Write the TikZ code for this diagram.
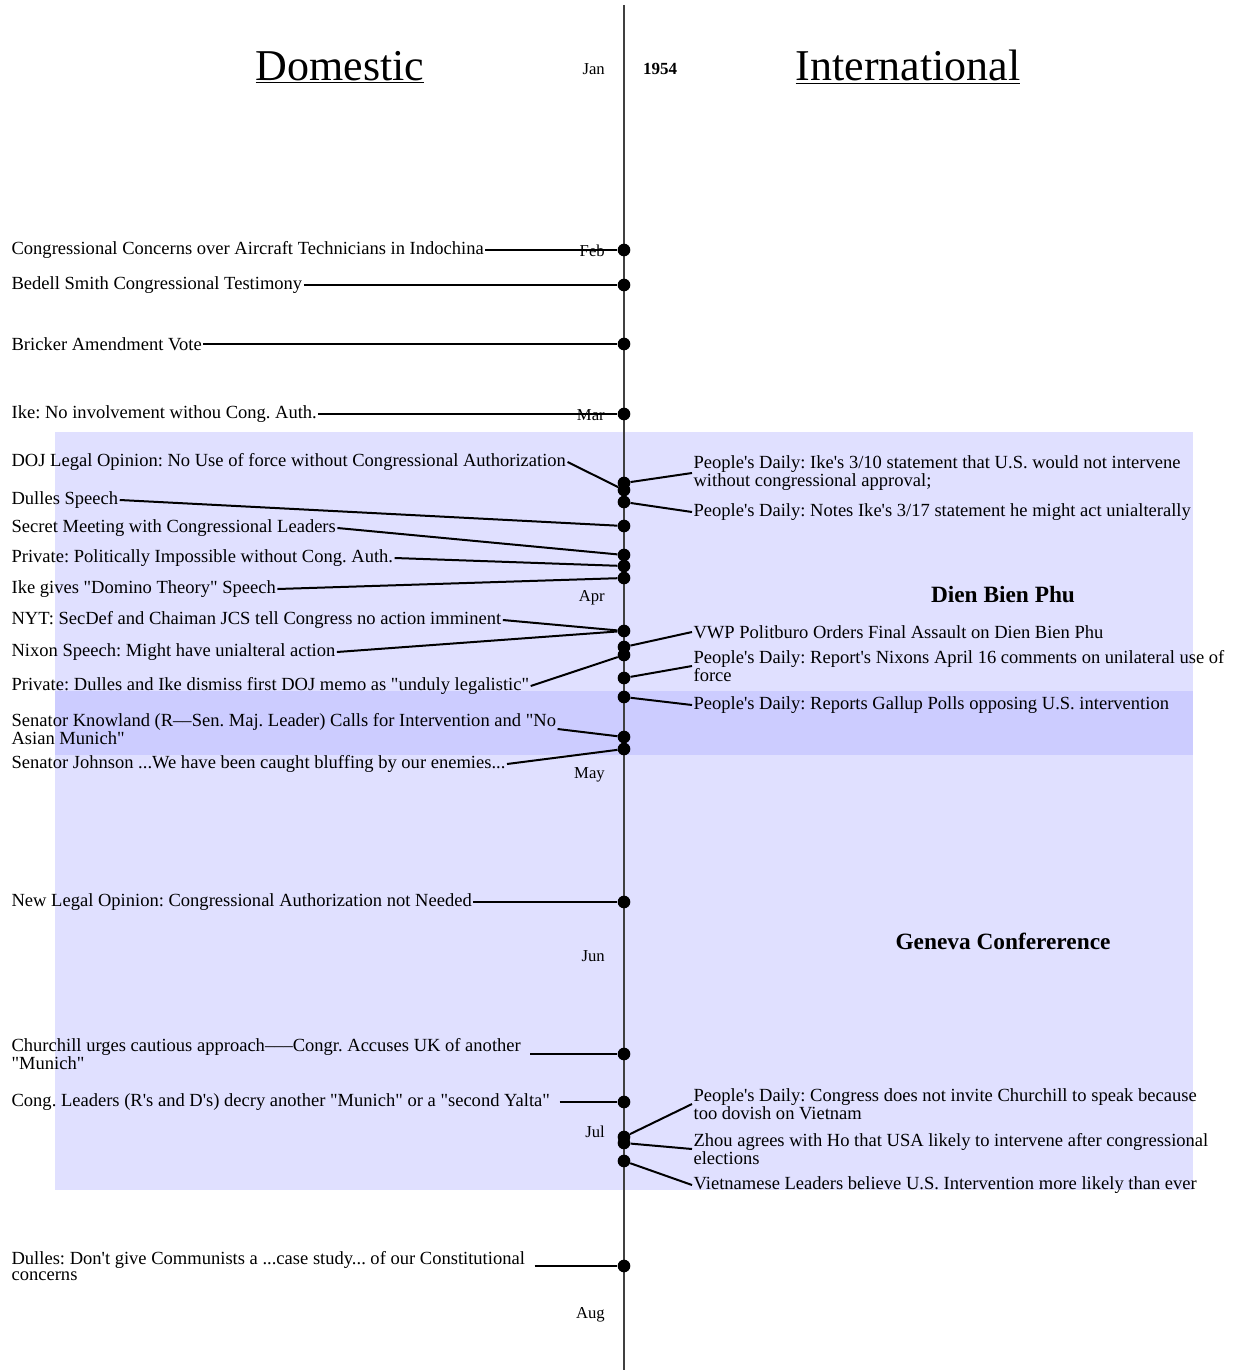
\documentclass[tikz,border=0pt]{standalone}
\usepackage{fontspec}
\setmainfont{Liberation Serif}[Ligatures=TeXOff]
\definecolor{bandlight}{RGB}{224,224,255}
\definecolor{banddark}{RGB}{204,204,255}

\begin{document}
\frenchspacing
\begin{tikzpicture}[every text node part/.style={align=left}, x=0.75pt, y=-0.75pt]

\tikzstyle{event}=[font=\fontsize{13.9}{12}\selectfont, inner sep=1pt, anchor=west]
\tikzstyle{evdot}=[circle, fill=black, inner sep=0pt, minimum size=9.5pt]
\tikzstyle{month}=[font=\fontsize{12.5}{12}\selectfont, inner sep=0pt, anchor=east]
\tikzstyle{heading}=[font=\fontsize{33}{36}\selectfont]
\tikzstyle{period}=[font=\bfseries\fontsize{17.5}{20}\selectfont]
\tikzstyle{edge}=[draw, line width=1.5pt]
\tikzstyle{gapedge}=[edge, shorten <=6pt]
\tikzstyle{axis}=[draw, line width=0.8pt, black!75]

\useasboundingbox (0,0) rectangle (1232,1370);

\fill [bandlight] (55,432) rectangle (1193,1190);
\fill [banddark]  (55,691) rectangle (1193,755);

\coordinate (top)    at (624,5);
\coordinate (bottom) at (624,1370);
\path [axis] (top) -- (bottom);

\node [heading] (domestic)      at (340,67) {\underline{Domestic}};
\node [heading] (international) at (908,67) {\underline{International}};
\node [font=\bfseries\fontsize{12.75}{14}\selectfont] (year) at (660,69) {1954};

\node [month] (jan) at (605,69)   {Jan};
\node [month] (feb) at (605,251)  {Feb};
\node [month] (mar) at (605,415)  {Mar};
\node [month] (apr) at (605,598)  {Apr};
\node [month] (may) at (605,775)  {May};
\node [month] (jun) at (605,956)  {Jun};
\node [month] (jul) at (605,1132) {Jul};
\node [month] (aug) at (605,1315) {Aug};

\node [period] (dienbienphu) at (1003,595) {Dien Bien Phu};
\node [period] (geneva)      at (1003,941) {Geneva Confererence};

\node [event] (cong)      at (10,250)  {Congressional Concerns over Aircraft Technicians in Indochina};
\node [event] (bedell)    at (10,285)  {Bedell Smith Congressional Testimony};
\node [event] (bricker)   at (10,344)  {Bricker Amendment Vote};
\node [event] (ikeno)     at (10,414)  {Ike: No involvement withou Cong. Auth.};
\node [event] (doj)       at (10,462)  {DOJ Legal Opinion: No Use of force without Congressional Authorization};
\node [event] (dulles)    at (10,500)  {Dulles Speech};
\node [event] (secret)    at (10,528)  {Secret Meeting with Congressional Leaders};
\node [event] (private)   at (10,558)  {Private: Politically Impossible without Cong. Auth.};
\node [event] (domino)    at (10,589)  {Ike gives "Domino Theory" Speech};
\node [event] (nyt)       at (10,620)  {NYT: SecDef and Chaiman JCS tell Congress no action imminent};
\node [event] (nixon)     at (10,652)  {Nixon Speech: Might have unialteral action};
\node [event] (dismiss)   at (10,686)  {Private: Dulles and Ike dismiss first DOJ memo as "unduly legalistic"};
\node [event] (knowland)  at (10,729)  {Senator Knowland (R––Sen. Maj. Leader) Calls for Intervention and "No\\Asian Munich"};
\node [event] (johnson)   at (10,764)  {Senator Johnson ...We have been caught bluffing by our enemies...};
\node [event] (legal)     at (10,902)  {New Legal Opinion: Congressional Authorization not Needed};
\node [event] (churchill) at (10,1054) {Churchill urges cautious approach–––Congr. Accuses UK of another\\"Munich"};
\node [event] (leaders)   at (10,1102) {Cong. Leaders (R's and D's) decry another "Munich" or a "second Yalta"};
\node [event] (casestudy) at (10,1266) {Dulles: Don't give Communists a ...case study... of our Constitutional\\concerns};

\node [event] (pdnotinter) at (692,473)  {People's Daily: Ike's 3/10 statement that U.S. would not intervene\\without congressional approval;};
\node [event] (pdunilat)   at (692,512)  {People's Daily: Notes Ike's 3/17 statement he might act unialterally};
\node [event] (vwp)        at (692,632)  {VWP Politburo Orders Final Assault on Dien Bien Phu};
\node [event] (pdnixon)    at (692,666)  {People's Daily: Report's Nixons April 16 comments on unilateral use of\\force};
\node [event] (pdgallup)   at (692,705)  {People's Daily: Reports Gallup Polls opposing U.S. intervention};
\node [event] (pdchurch)   at (692,1104) {People's Daily: Congress does not invite Churchill to speak because\\too dovish on Vietnam};
\node [event] (zhou)       at (692,1149) {Zhou agrees with Ho that USA likely to intervene after congressional\\elections};
\node [event] (vietlead)   at (692,1185) {Vietnamese Leaders believe U.S. Intervention more likely than ever};

\node [evdot] (dcong)      at (624,250)  {};
\node [evdot] (dbedell)    at (624,285)  {};
\node [evdot] (dbricker)   at (624,344)  {};
\node [evdot] (dikeno)     at (624,414)  {};
\node [evdot] (dpdnotinter) at (624,483) {};
\node [evdot] (ddoj)       at (624,490)  {};
\node [evdot] (dpdunilat)  at (624,502)  {};
\node [evdot] (ddulles)    at (624,526)  {};
\node [evdot] (dsecret)    at (624,555)  {};
\node [evdot] (dprivate)   at (624,566)  {};
\node [evdot] (ddomino)    at (624,578)  {};
\node [evdot] (dnyt)       at (624,631)  {};
\node [evdot] (dvwp)       at (624,647)  {};
\node [evdot] (ddismiss)   at (624,655)  {};
\node [evdot] (dpdnixon)   at (624,678)  {};
\node [evdot] (dpdgallup)  at (624,697)  {};
\node [evdot] (dknowland)  at (624,737)  {};
\node [evdot] (djohnson)   at (624,749)  {};
\node [evdot] (dlegal)     at (624,902)  {};
\node [evdot] (dchurchill) at (624,1054) {};
\node [evdot] (dleaders)   at (624,1102) {};
\node [evdot] (dpdchurch)  at (624,1137) {};
\node [evdot] (dzhou)      at (624,1143) {};
\node [evdot] (dvietlead)  at (624,1161) {};
\node [evdot] (dcasestudy) at (624,1266) {};

\path [edge] (cong.east) -- (dcong);
\path [edge] (bedell.east) -- (dbedell);
\path [edge] (bricker.east) -- (dbricker);
\path [edge] (ikeno.east) -- (dikeno);
\path [edge] (doj.east) -- (ddoj);
\path [edge] (dulles.east) -- (ddulles);
\path [edge] (secret.east) -- (dsecret);
\path [edge] (private.east) -- (dprivate);
\path [edge] (domino.east) -- (ddomino);
\path [edge] (nyt.east) -- (dnyt);
\path [edge] (nixon.east) -- (dnyt);
\path [edge] (dismiss.east) -- (ddismiss);
\path [edge] (knowland.east) -- (dknowland);
\path [edge] (johnson.east) -- (djohnson);
\path [edge] (legal.east) -- (dlegal);
\path [gapedge] (churchill.east) -- (dchurchill);
\path [gapedge] (leaders.east) -- (dleaders);
\path [gapedge] (casestudy.east) -- (dcasestudy);

\path [edge] (dpdnotinter) -- (pdnotinter.west);
\path [edge] (dpdunilat) -- (pdunilat.west);
\path [edge] (dvwp) -- (vwp.west);
\path [edge] (dpdnixon) -- (pdnixon.west);
\path [edge] (dpdgallup) -- (pdgallup.west);
\path [edge] (dpdchurch) -- (pdchurch.west);
\path [edge] (dzhou) -- (zhou.west);
\path [edge] (dvietlead) -- (vietlead.west);

\end{tikzpicture}
\end{document}
